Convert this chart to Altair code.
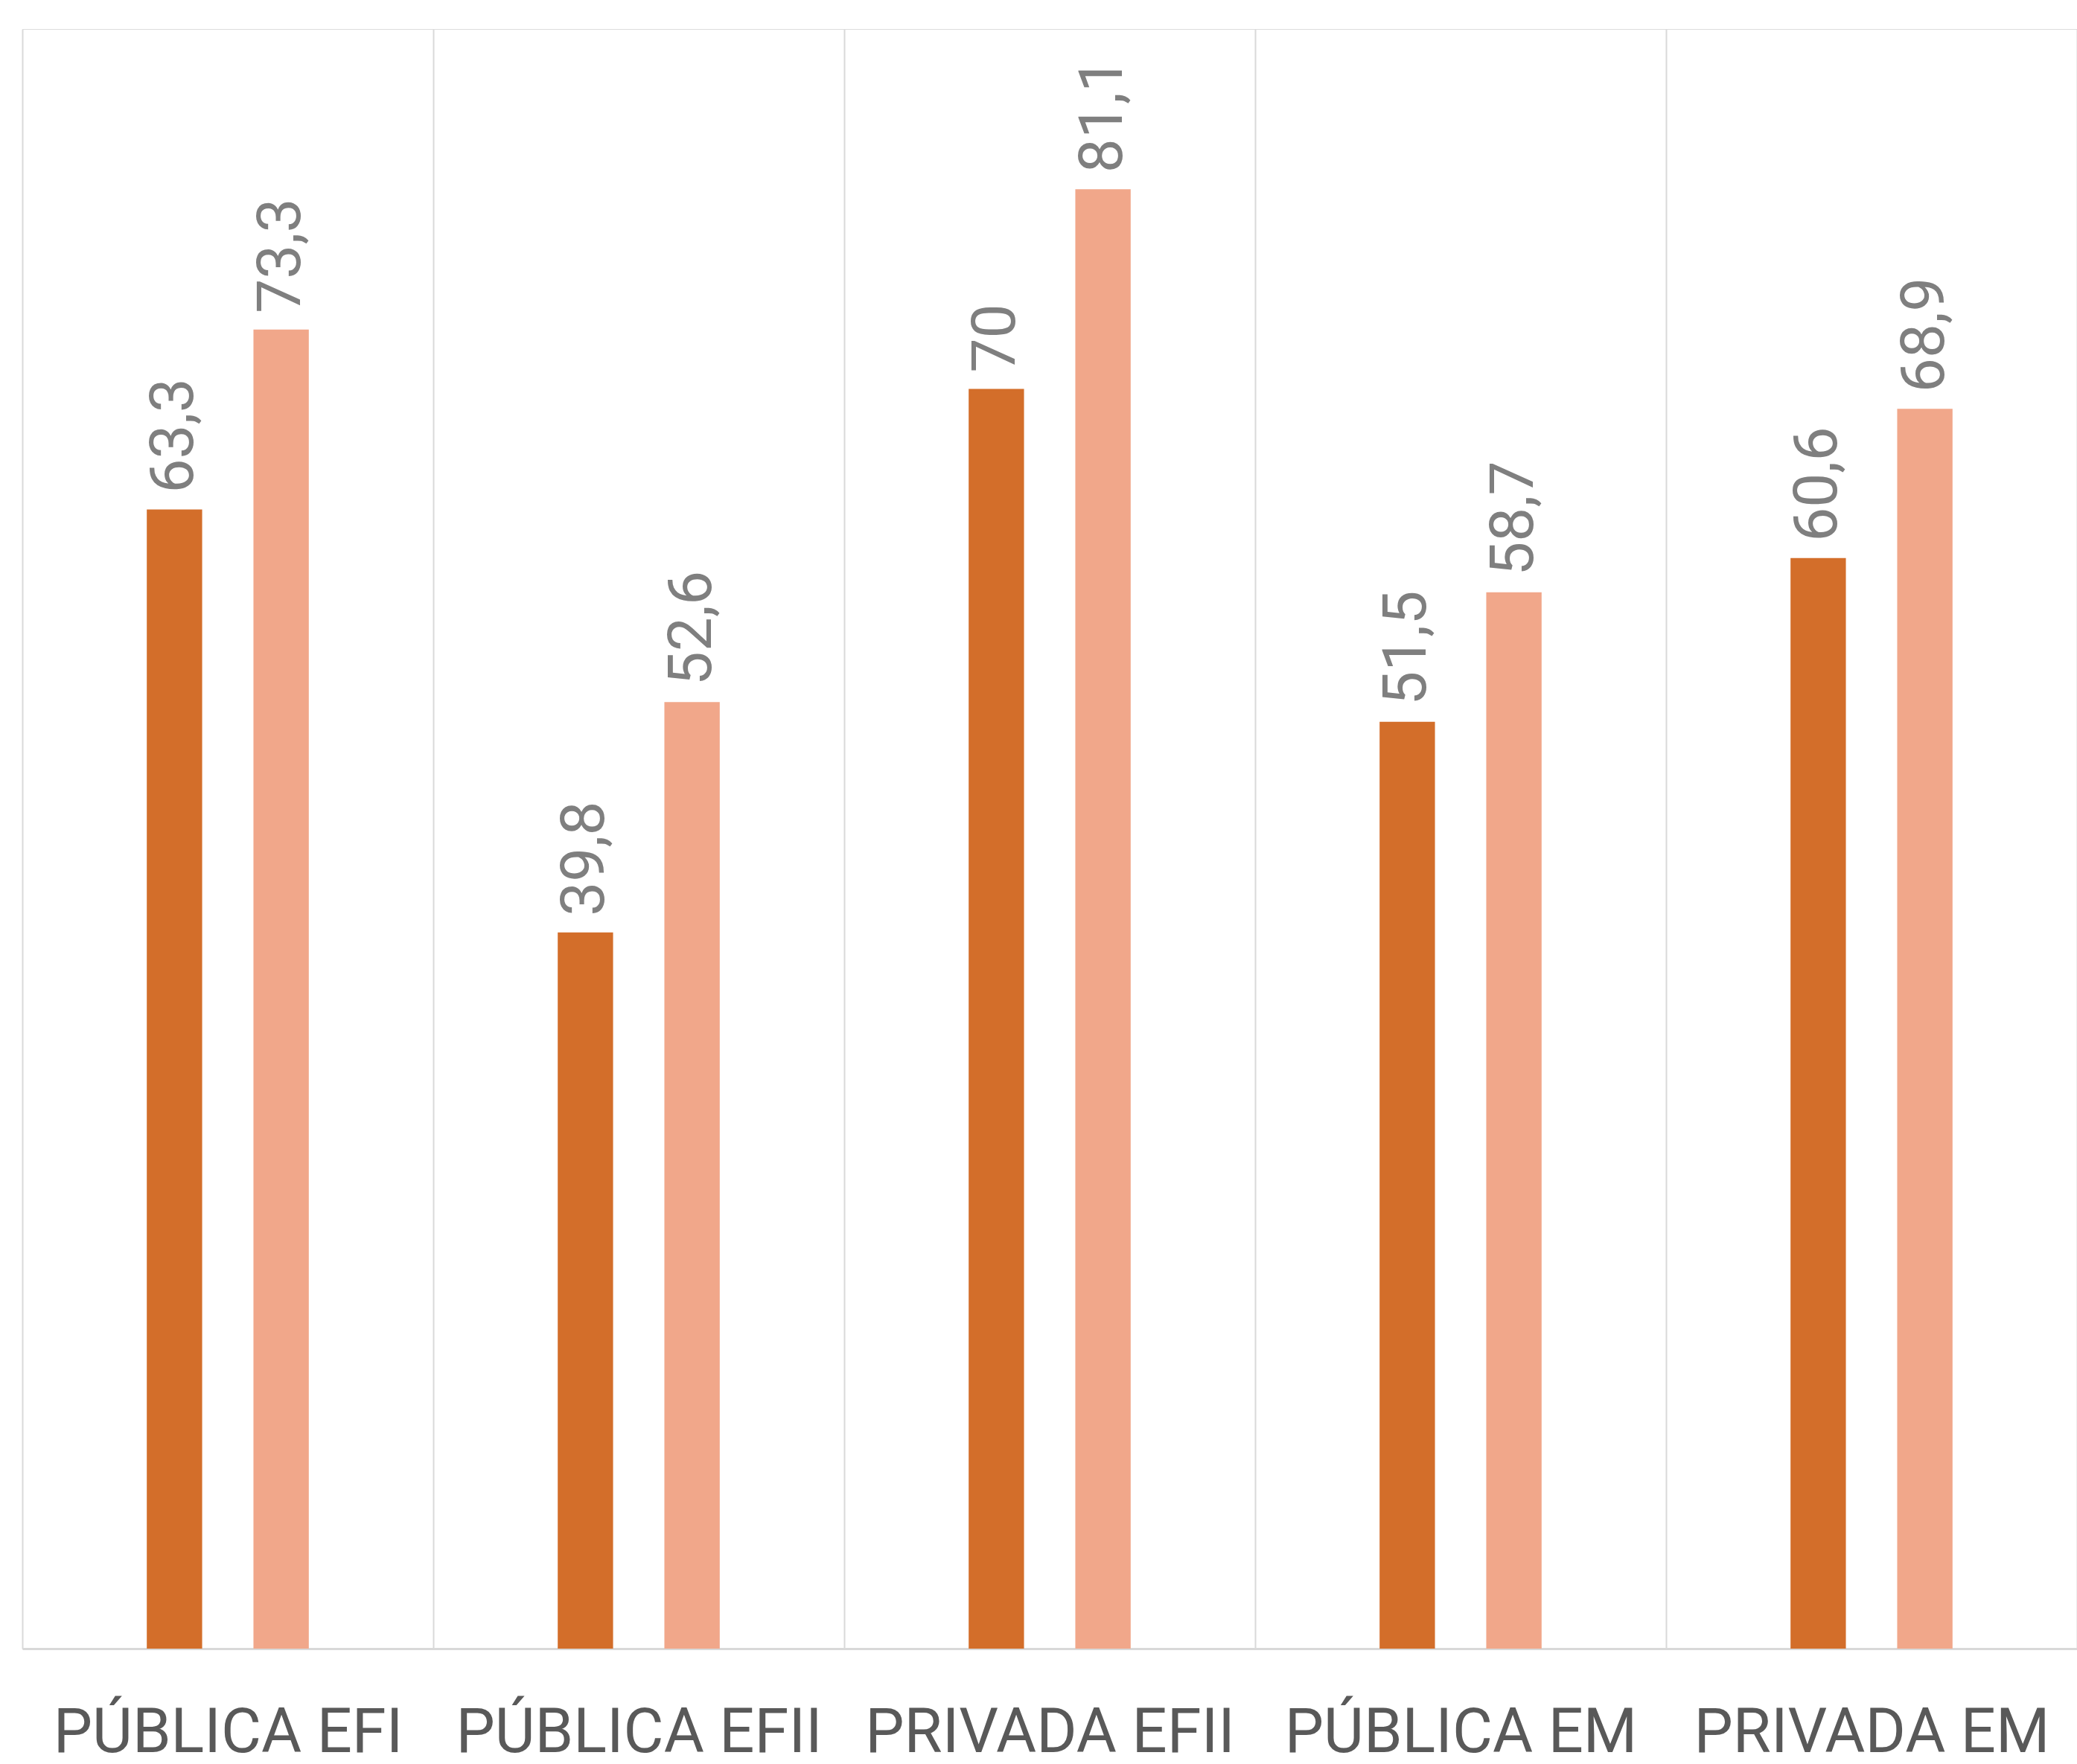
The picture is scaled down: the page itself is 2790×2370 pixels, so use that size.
import altair as alt
import pandas as pd

categories = ["PÚBLICA EFI", "PÚBLICA EFII", "PRIVADA EFII", "PÚBLICA EM", "PRIVADA EM"]
serie_a = [63.3, 39.8, 70, 51.5, 60.6]
serie_b = [73.3, 52.6, 81.1, 58.7, 68.9]
series_names = ["Série 1", "Série 2"]
colors = ["#D36E2A", "#F1A78A"]

rows = []
for c, a, b in zip(categories, serie_a, serie_b):
    for s, v in zip(series_names, (a, b)):
        rows.append({"cat": c, "serie": s, "valor": v,
                     "rotulo": f"{v:g}".replace(".", ",")})
df = pd.DataFrame(rows)

FONT = "Roboto"
offset_domain = ["_a"] + series_names + ["_b"]

x = alt.X(
    "cat:N", sort=categories,
    scale=alt.Scale(paddingInner=0, paddingOuter=0),
    axis=alt.Axis(
        title=None, grid=True, tickBand="extent", ticks=False,
        domain=True, domainColor="#D9D9D9", domainWidth=3,
        gridColor="#D9D9D9", gridWidth=2,
        labelFont=FONT, labelFontSize=83, labelColor="#595959",
        labelPadding=72, labelAngle=0, labelLimit=0, labelOverlap=False,
    ),
)
xo = alt.XOffset("serie:N",
                 scale=alt.Scale(domain=offset_domain, paddingInner=0.481, paddingOuter=0.167))
y = alt.Y("valor:Q", scale=alt.Scale(domain=[0, 90], nice=False), axis=None)

bars = alt.Chart(df).mark_bar().encode(
    x=x, xOffset=xo, y=y,
    color=alt.Color("serie:N", scale=alt.Scale(domain=series_names, range=colors), legend=None),
)

labels = alt.Chart(df).mark_text(
    angle=270, align="left", baseline="middle", dx=22,
    font=FONT, fontSize=82, color="#7F7F7F",
).encode(x=x, xOffset=xo, y=y, text="rotulo:N")

chart = (bars + labels).properties(
    width=2760, height=2176,
    padding={"left": 30, "top": 39, "right": 0, "bottom": 0},
).configure_view(stroke=None).configure(background="white")

chart.save("out.html", embed_options={"renderer": "svg", "actions": False})
